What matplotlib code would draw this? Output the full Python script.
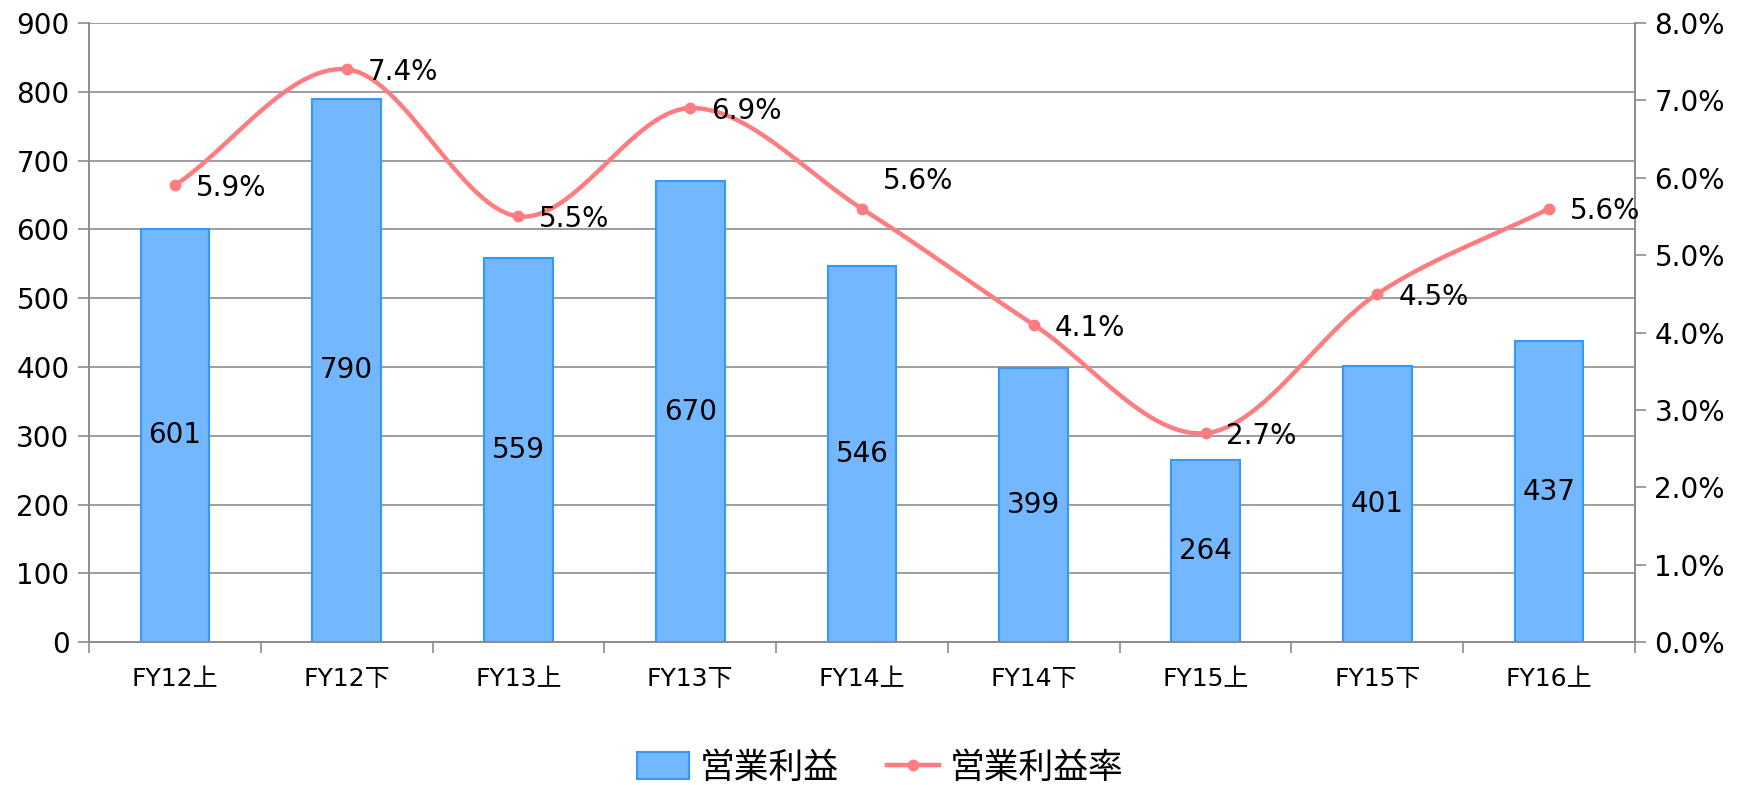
import matplotlib
matplotlib.use("Agg")
import matplotlib.pyplot as plt
import numpy as np
from matplotlib.patches import Patch
from matplotlib.lines import Line2D
from matplotlib.ticker import FuncFormatter, MultipleLocator

plt.rcParams['font.family'] = ['DejaVu Sans', 'Noto Sans CJK JP']

periods = ['FY12上', 'FY12下', 'FY13上', 'FY13下', 'FY14上', 'FY14下', 'FY15上', 'FY15下', 'FY16上']
profit = [601, 790, 559, 670, 546, 399, 264, 401, 437]
margin = [5.9, 7.4, 5.5, 6.9, 5.6, 4.1, 2.7, 4.5, 5.6]

BAR_FACE = '#73b7ff'
BAR_EDGE = '#3399ff'
LINE_COLOR = '#ff7c80'
GRID = '#8c8c8c'

# the FY14上 label sits above the point in the original
label_offsets = {4: (15, 20)}


def smooth(x, y, n=30):
    # catmull-rom style curve through the points (Excel "smoothed line")
    x = np.asarray(x, float)
    y = np.asarray(y, float)
    px = np.concatenate([[2 * x[0] - x[1]], x, [2 * x[-1] - x[-2]]])
    py = np.concatenate([[2 * y[0] - y[1]], y, [2 * y[-1] - y[-2]]])
    xs, ys = [], []
    t = np.linspace(0, 1, n)
    for i in range(1, len(px) - 2):
        for p, out in ((px, xs), (py, ys)):
            p0, p1, p2, p3 = p[i - 1], p[i], p[i + 1], p[i + 2]
            out.extend(0.5 * ((2 * p1) + (-p0 + p2) * t
                              + (2 * p0 - 5 * p1 + 4 * p2 - p3) * t ** 2
                              + (-p0 + 3 * p1 - 3 * p2 + p3) * t ** 3))
    return np.array(xs), np.array(ys)


fig = plt.figure(figsize=(17.46, 7.85), dpi=100)
ax = fig.add_axes([0.051, 0.182, 0.8854, 0.7888])
ax2 = ax.twinx()

x = np.arange(len(periods))
ax.bar(x, profit, width=0.4, color=BAR_FACE, edgecolor=BAR_EDGE, linewidth=1.5, zorder=3)
for xi, v in zip(x, profit):
    ax.text(xi, v / 2, str(v), ha='center', va='center', fontsize=20, color='black', zorder=4)

ax.set_xlim(-0.5, len(periods) - 0.5)
ax.set_ylim(0, 900)
ax.yaxis.set_major_locator(MultipleLocator(100))
ax.grid(axis='y', color=GRID, linewidth=1.2, zorder=0)
ax.set_axisbelow(True)

ax.set_xticks(x)
ax.set_xticklabels(periods, fontsize=18)
ax.set_xticks(np.arange(-0.5, len(periods)), minor=True)
ax.tick_params(axis='x', which='major', length=0, pad=18)
ax.tick_params(axis='x', which='minor', length=8, color=GRID, width=1.2)
ax.tick_params(axis='y', labelsize=20, length=8, color=GRID, width=1.2, pad=6)

sx, sy = smooth(x, margin)
ax2.plot(sx, sy, color=LINE_COLOR, linewidth=3.2, zorder=5, solid_capstyle='round')
ax2.plot(x, margin, 'o', color=LINE_COLOR, markersize=7.5, zorder=6)
for i, (xi, m) in enumerate(zip(x, margin)):
    ax2.annotate(f'{m:.1f}%', (xi, m), xytext=label_offsets.get(i, (15, -2)),
                 textcoords='offset points', ha='left', va='center', fontsize=20, zorder=7)
ax2.set_ylim(0, 8)
ax2.yaxis.set_major_locator(MultipleLocator(1))
ax2.yaxis.set_major_formatter(FuncFormatter(lambda v, _: f'{v:.1f}%'))
ax2.tick_params(axis='y', labelsize=20, length=8, color=GRID, width=1.2, pad=6)

for a in (ax, ax2):
    a.spines['top'].set_visible(False)
    for s in ('left', 'right', 'bottom'):
        a.spines[s].set_color(GRID)
        a.spines[s].set_linewidth(1.2)

handles = [Patch(facecolor=BAR_FACE, edgecolor=BAR_EDGE, linewidth=1.5),
           Line2D([0], [0], color=LINE_COLOR, linewidth=3.2, marker='o', markersize=7.5)]
fig.legend(handles, ['営業利益', '営業利益率'], loc='center', bbox_to_anchor=(0.504, 0.022),
           ncol=2, frameon=False, fontsize=25, handlelength=1.5, handleheight=0.8,
           columnspacing=1.4, handletextpad=0.3)

fig.savefig('out.png', dpi=100)
